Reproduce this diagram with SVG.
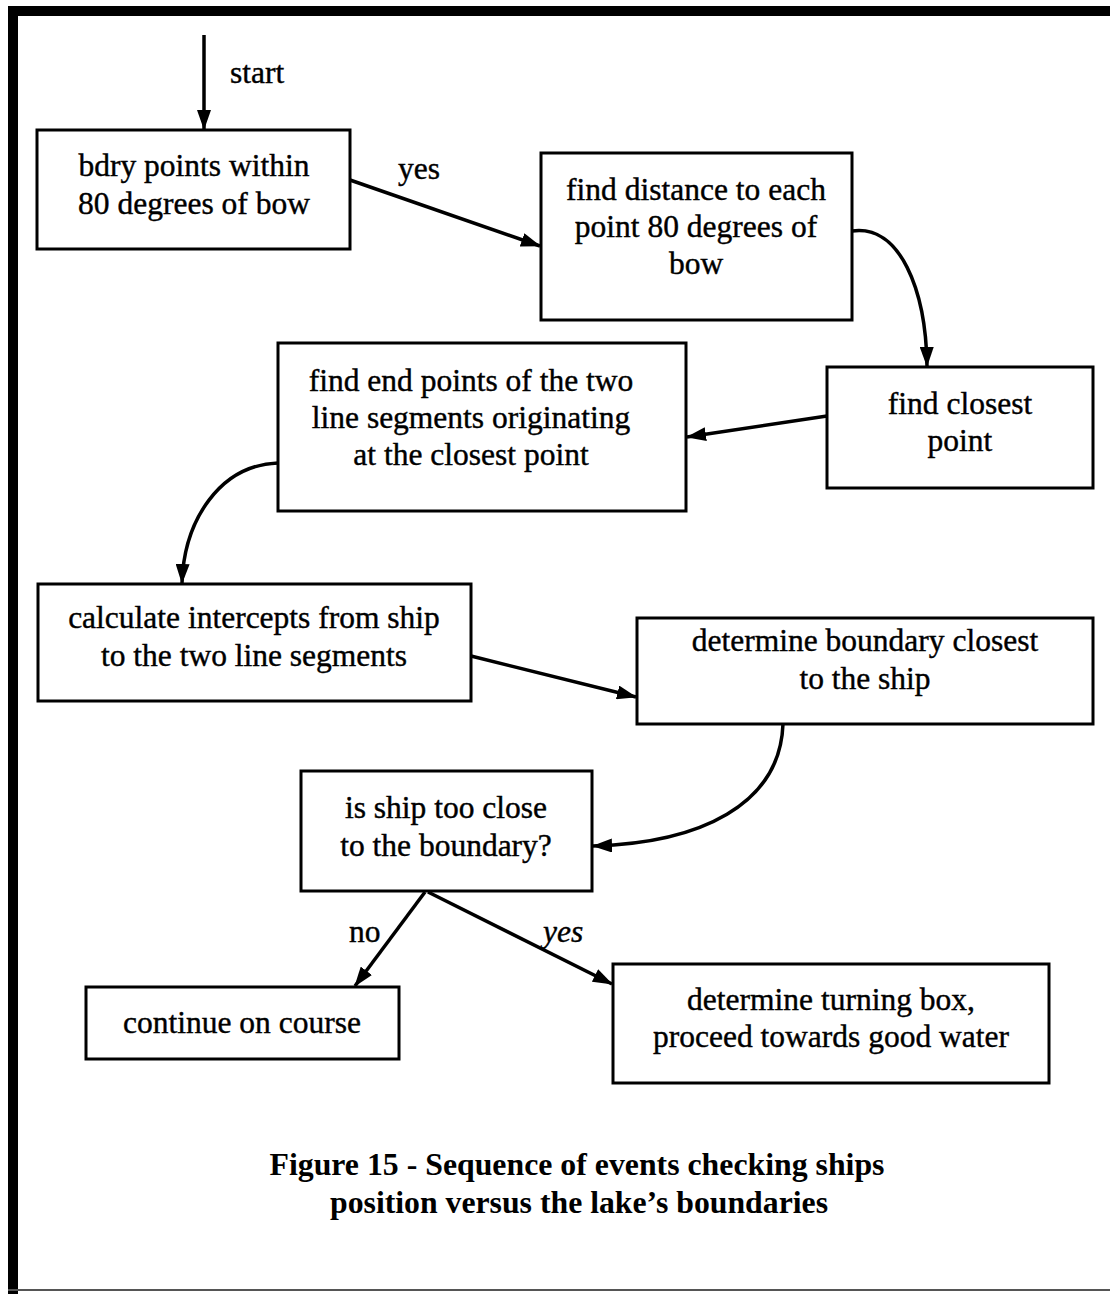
<svg xmlns="http://www.w3.org/2000/svg" width="1110" height="1294" viewBox="0 0 1110 1294">
<defs>
<style>
.box{fill:#fff;stroke:#000;stroke-width:3}
.t{font-family:"Liberation Serif","Times New Roman",serif;font-size:31.5px;fill:#000;stroke:#000;stroke-width:0.4;text-anchor:middle}
.lbl{font-family:"Liberation Serif","Times New Roman",serif;font-size:31.5px;fill:#000;stroke:#000;stroke-width:0.4}
.cap{font-family:"Liberation Serif","Times New Roman",serif;font-size:31px;font-weight:bold;fill:#000;text-anchor:middle}
.c{fill:none;stroke:#000;stroke-width:3.5;marker-end:url(#ah)}
</style>
<marker id="ah" viewBox="0 0 20 14" refX="19" refY="7" markerWidth="20" markerHeight="14" markerUnits="userSpaceOnUse" orient="auto">
<path d="M0,0 L20,7 L0,14 Z" fill="#000"/>
</marker>
</defs>
<rect width="1110" height="1294" fill="#fff"/>
<g id="frame">
<rect x="8" y="6" width="1102" height="10" fill="#000"/>
<rect x="8" y="6" width="10" height="1288" fill="#000"/>
<rect x="8" y="1289" width="1102" height="2" fill="#555"/>
</g>
<g id="connectors">
<path class="c" d="M204,35 L204,129"/>
<path class="c" d="M350,180 L540,246"/>
<path class="c" d="M852,231 C900,224 926,290 927,366"/>
<path class="c" d="M827,416 L687,437"/>
<path class="c" d="M278,463 C220,465 184,520 182,583"/>
<path class="c" d="M471,656 L636,697"/>
<path class="c" d="M783,724 C780,805 700,843 593,846"/>
<path class="c" d="M425,892 L355,986"/>
<path class="c" d="M428,892 L612,984"/>
<text class="lbl" x="230" y="83">start</text>
<text class="lbl" x="398" y="179">yes</text>
<text class="lbl" x="349" y="942">no</text>
<text class="lbl" x="543" y="942" font-style="italic">yes</text>
</g>
<g id="n1">
<rect class="box" x="37" y="130" width="313" height="119"/>
<text class="t" x="194" y="176">bdry points within</text>
<text class="t" x="194" y="214">80 degrees of bow</text>
</g>
<g id="n2">
<rect class="box" x="541" y="153" width="311" height="167"/>
<text class="t" x="696" y="200">find distance to each</text>
<text class="t" x="696" y="237">point 80 degrees of</text>
<text class="t" x="696" y="274">bow</text>
</g>
<g id="n3">
<rect class="box" x="827" y="367" width="266" height="121"/>
<text class="t" x="960" y="414">find closest</text>
<text class="t" x="960" y="451">point</text>
</g>
<g id="n4">
<rect class="box" x="278" y="343" width="408" height="168"/>
<text class="t" x="471" y="391">find end points of the two</text>
<text class="t" x="471" y="428">line segments originating</text>
<text class="t" x="471" y="465">at the closest point</text>
</g>
<g id="n5">
<rect class="box" x="38" y="584" width="433" height="117"/>
<text class="t" x="254" y="628">calculate intercepts from ship</text>
<text class="t" x="254" y="666">to the two line segments</text>
</g>
<g id="n6">
<rect class="box" x="637" y="618" width="456" height="106"/>
<text class="t" x="865" y="651">determine boundary closest</text>
<text class="t" x="865" y="689">to the ship</text>
</g>
<g id="n7">
<rect class="box" x="301" y="771" width="291" height="120"/>
<text class="t" x="446" y="818">is ship too close</text>
<text class="t" x="446" y="856">to the boundary?</text>
</g>
<g id="n8">
<rect class="box" x="86" y="987" width="313" height="72"/>
<text class="t" x="242" y="1033">continue on course</text>
</g>
<g id="n9">
<rect class="box" x="613" y="964" width="436" height="119"/>
<text class="t" x="831" y="1010">determine turning box,</text>
<text class="t" x="831" y="1047">proceed towards good water</text>
</g>
<g id="caption">
<text class="cap" x="577" y="1175" textLength="615" lengthAdjust="spacingAndGlyphs">Figure 15 - Sequence of events checking ships</text>
<text class="cap" x="579" y="1213" textLength="498" lengthAdjust="spacingAndGlyphs">position versus the lake’s boundaries</text>
</g>
</svg>
